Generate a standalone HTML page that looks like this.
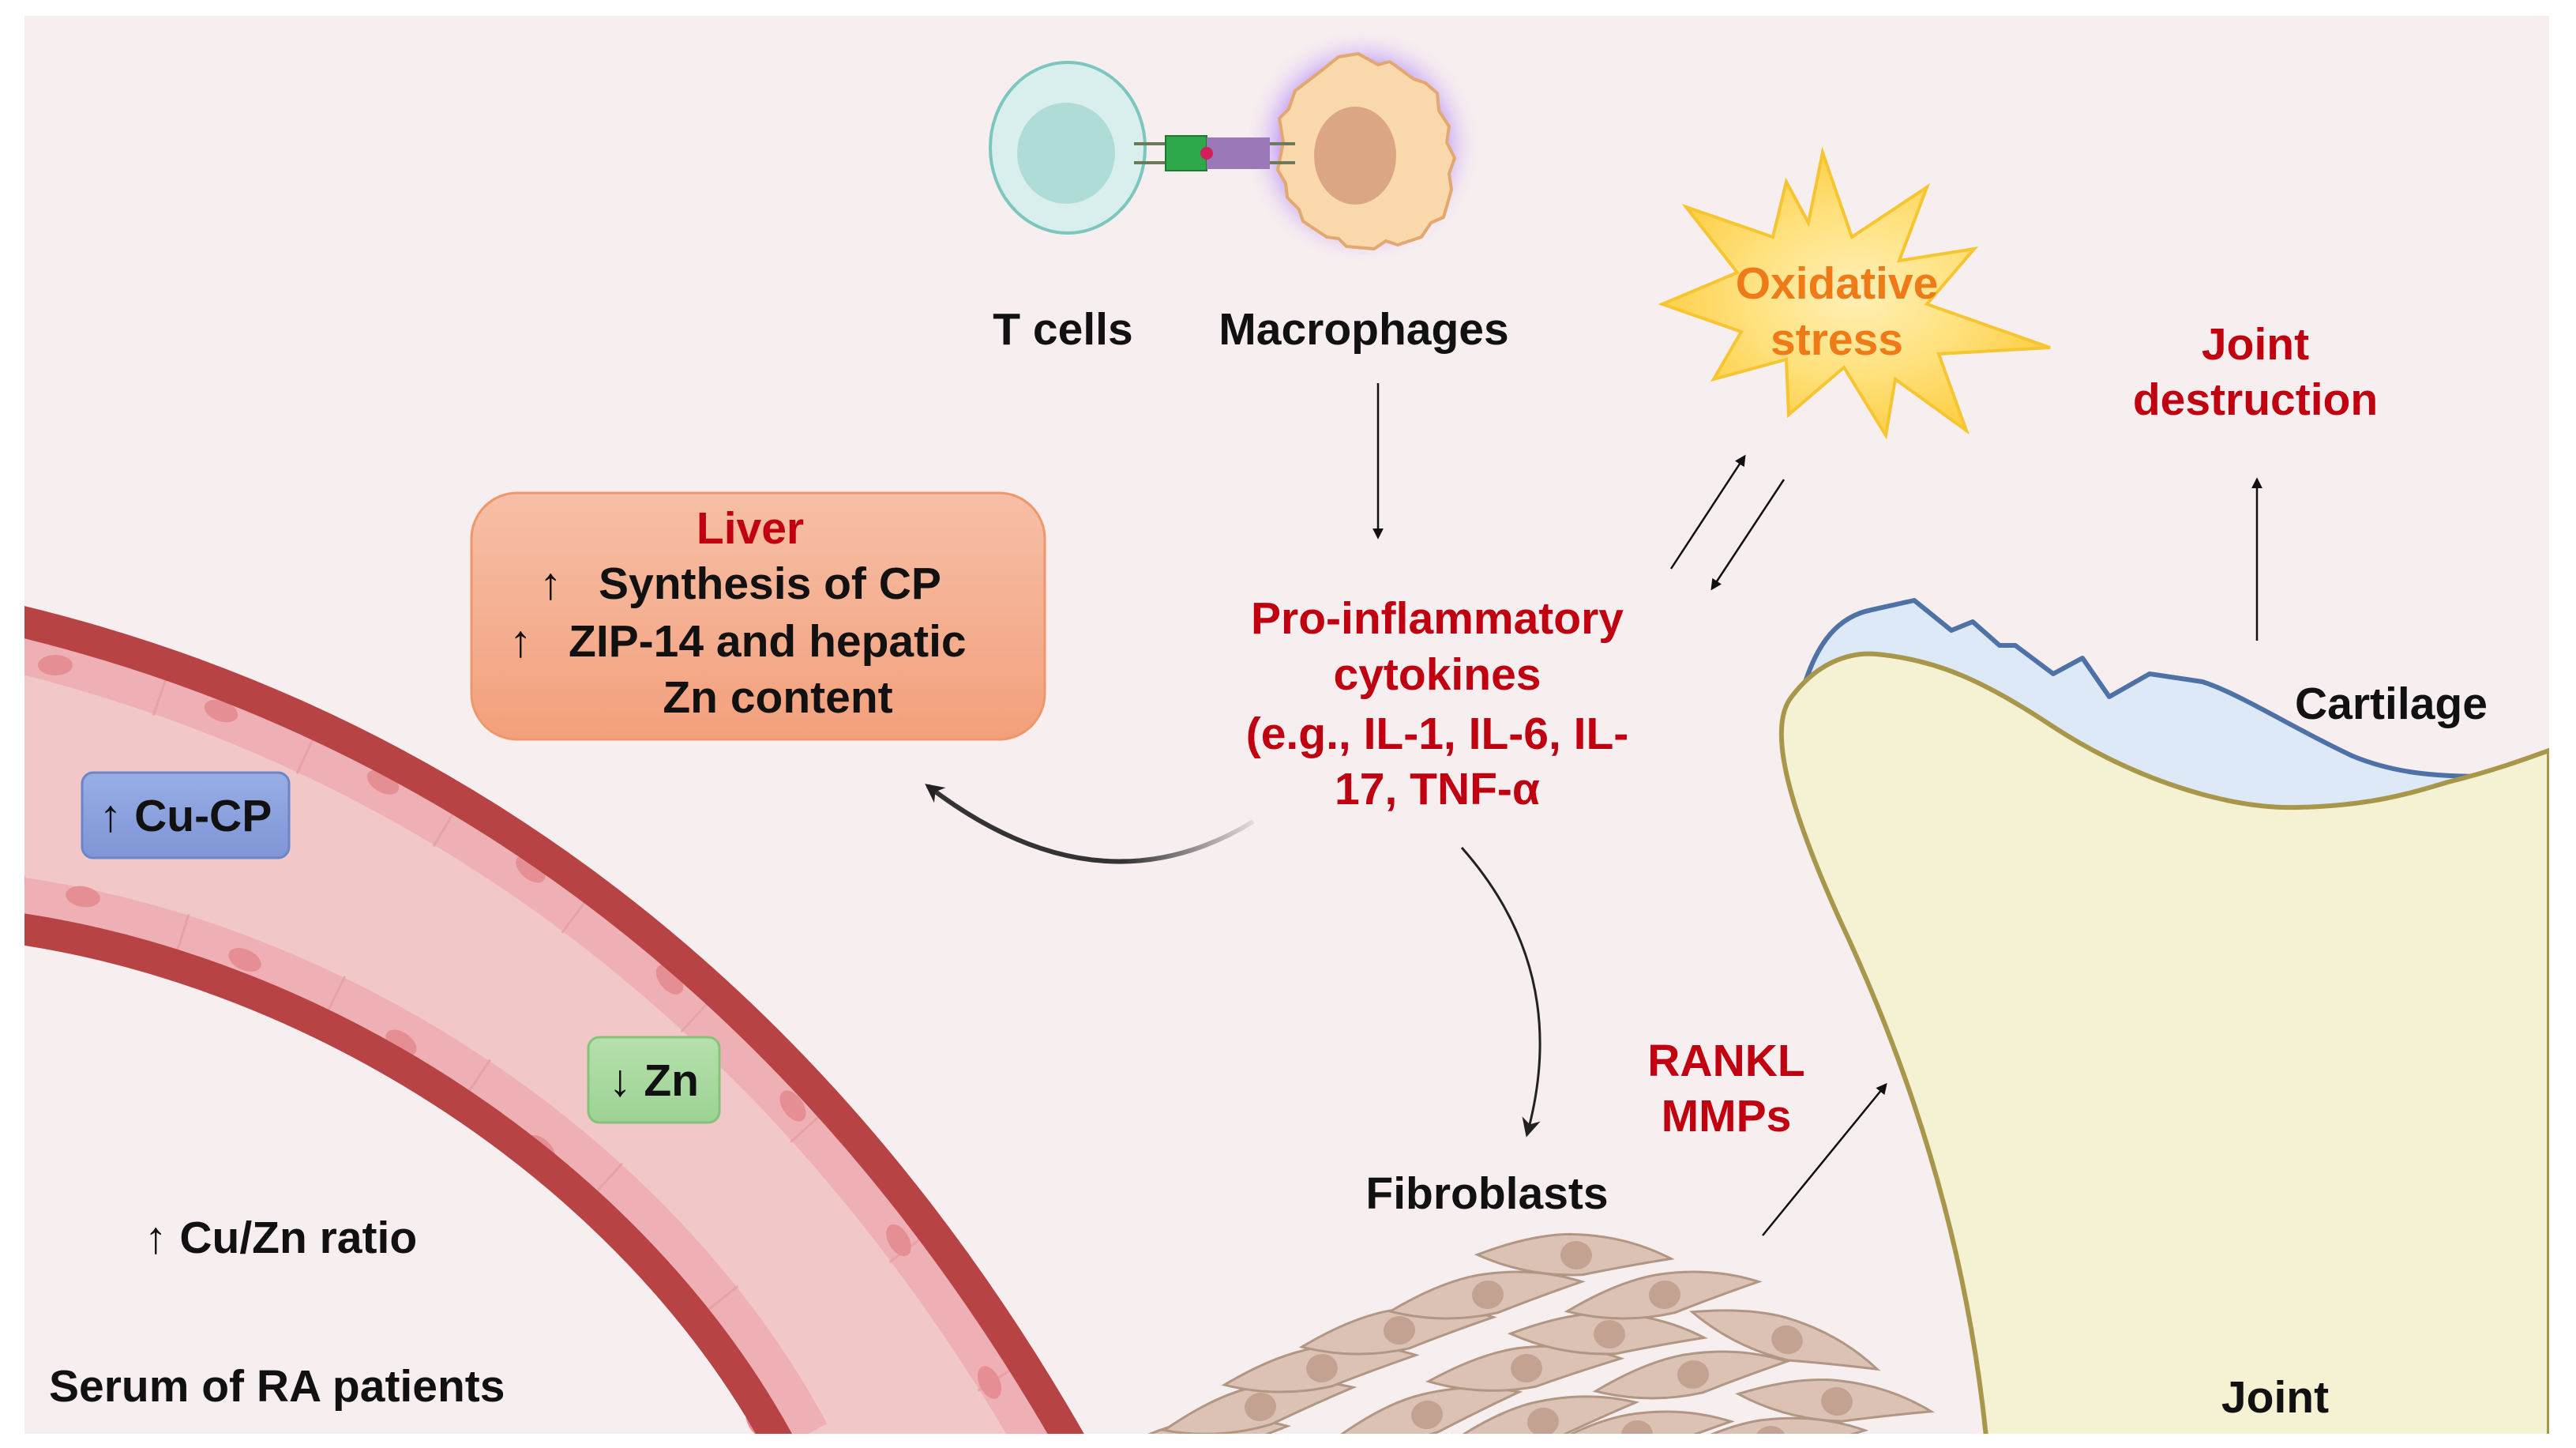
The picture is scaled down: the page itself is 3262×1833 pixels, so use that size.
<!DOCTYPE html>
<html><head><meta charset="utf-8"><style>
html,body{margin:0;padding:0;background:#fff;}
svg{display:block;}
text{font-family:"Liberation Sans",Arial,sans-serif;font-weight:bold;}
</style></head><body>
<svg width="3262" height="1833" viewBox="0 0 3262 1833" xmlns="http://www.w3.org/2000/svg">
<defs>
<clipPath id="content"><rect x="31" y="20" width="3197" height="1795"/></clipPath>
<clipPath id="lumen"><path d="M20 785 C500 900 1000 1200 1360 1833 L990 1833 C800 1480 400 1230 20 1175 Z"/></clipPath>
<linearGradient id="liverG" x1="0" y1="0" x2="0" y2="1"><stop offset="0" stop-color="#f6bfa6"/><stop offset="1" stop-color="#f3a07c"/></linearGradient>
<linearGradient id="cuG" x1="0" y1="0" x2="0" y2="1"><stop offset="0" stop-color="#98aee6"/><stop offset="1" stop-color="#7f95d6"/></linearGradient>
<linearGradient id="znG" x1="0" y1="0" x2="0" y2="1"><stop offset="0" stop-color="#b6e0ad"/><stop offset="1" stop-color="#9dd293"/></linearGradient>
<radialGradient id="starG" cx="0.5" cy="0.5" r="0.5"><stop offset="0" stop-color="#fff0b8"/><stop offset="0.6" stop-color="#ffe07a"/><stop offset="1" stop-color="#fcd04a"/></radialGradient>
<radialGradient id="glow" cx="0.5" cy="0.5" r="0.5"><stop offset="0.7" stop-color="#c7a6f5" stop-opacity="0.9"/><stop offset="1" stop-color="#f7eef0" stop-opacity="0"/></radialGradient>
<linearGradient id="curveG" x1="1" y1="0" x2="0" y2="0"><stop offset="0" stop-color="#333" stop-opacity="0.1"/><stop offset="0.4" stop-color="#333"/><stop offset="1" stop-color="#333"/></linearGradient>
<marker id="ahs" viewBox="0 0 10 10" refX="8" refY="5" markerWidth="14" markerHeight="14" orient="auto" markerUnits="userSpaceOnUse"><path d="M0 0 L10 5 L0 10 Z" fill="#111"/></marker>
<marker id="ahb" viewBox="0 0 10 10" refX="8" refY="5" markerWidth="24" markerHeight="24" orient="auto" markerUnits="userSpaceOnUse"><path d="M0 0 L10 5 L0 10 L3 5 Z" fill="#222"/></marker>
<g id="fib"><path d="M-125 8 Q-60 -22 -10 -26 Q60 -30 120 -4 Q60 10 10 24 Q-60 32 -125 8 Z" fill="#dcc2b4" stroke="#b29684" stroke-width="3"/><ellipse cx="0" cy="0" rx="20" ry="18" fill="#c3a292"/></g>
</defs>
<rect x="0" y="0" width="3262" height="1833" fill="#ffffff"/>
<g clip-path="url(#content)">
<rect x="0" y="0" width="3262" height="1833" fill="#f7eef0"/>

<path d="M20 785 C500 900 1000 1200 1360 1833 L990 1833 C800 1480 400 1230 20 1175 Z" fill="#f1c7c8"/>
<g clip-path="url(#lumen)">
 <path d="M20 785 C500 900 1000 1200 1360 1833" fill="none" stroke="#eeb0b4" stroke-width="130"/>
 <path d="M20 1175 C400 1230 800 1480 990 1833" fill="none" stroke="#eeb0b4" stroke-width="130"/>
 <path d="M20 785 C500 900 1000 1200 1360 1833" fill="none" stroke="#e39ca0" stroke-width="134" stroke-dasharray="3 200" opacity="0.7"/>
 <path d="M20 1175 C400 1230 800 1480 990 1833" fill="none" stroke="#e39ca0" stroke-width="134" stroke-dasharray="3 200" opacity="0.7"/>
</g>
<g fill="#e58e94">
 <ellipse cx="70" cy="842" rx="22" ry="13"/><ellipse cx="280" cy="900" rx="22" ry="13" transform="rotate(20 280 900)"/>
 <ellipse cx="485" cy="990" rx="22" ry="13" transform="rotate(30 485 990)"/><ellipse cx="672" cy="1100" rx="22" ry="13" transform="rotate(40 672 1100)"/>
 <ellipse cx="848" cy="1240" rx="22" ry="13" transform="rotate(50 848 1240)"/><ellipse cx="1004" cy="1400" rx="22" ry="13" transform="rotate(55 1004 1400)"/>
 <ellipse cx="1138" cy="1570" rx="22" ry="13" transform="rotate(60 1138 1570)"/><ellipse cx="1253" cy="1750" rx="22" ry="13" transform="rotate(65 1253 1750)"/>
 <ellipse cx="105" cy="1135" rx="22" ry="13" transform="rotate(10 105 1135)"/><ellipse cx="310" cy="1215" rx="22" ry="13" transform="rotate(25 310 1215)"/>
 <ellipse cx="508" cy="1320" rx="22" ry="13" transform="rotate(35 508 1320)"/><ellipse cx="685" cy="1455" rx="22" ry="13" transform="rotate(45 685 1455)"/>
 <ellipse cx="835" cy="1620" rx="22" ry="13" transform="rotate(55 835 1620)"/><ellipse cx="960" cy="1800" rx="22" ry="13" transform="rotate(60 960 1800)"/>
</g>
<path d="M20 785 C500 900 1000 1200 1360 1833" fill="none" stroke="#b84345" stroke-width="40"/>
<path d="M20 1175 C400 1230 800 1480 990 1833" fill="none" stroke="#b84345" stroke-width="40"/>

<path d="M2281 880 C2300 810 2330 780 2370 772 L2424 760 L2471 798 L2498 787 L2532 817 L2552 817 L2600 853 L2637 833 L2671 882 L2722 853 L2789 863 C2840 880 2900 920 2979 957 C3030 978 3080 983 3148 983 L3148 1050 L2600 1000 L2300 950 Z" fill="#dde9f7" stroke="#4f72a6" stroke-width="6" stroke-linejoin="round"/>
<path d="M2517 1840 C2500 1650 2450 1420 2330 1165 C2260 1010 2240 920 2268 883 C2300 840 2340 825 2376 828 C2450 835 2510 860 2600 920 C2700 985 2820 1025 2911 1022 C3000 1020 3050 1005 3100 990 C3160 975 3200 960 3228 950 L3228 1840 Z" fill="#f5f2d4" stroke="#a8964a" stroke-width="6"/>

<g>
<use href="#fib" transform="translate(1512 1826) rotate(-8)"/>
<use href="#fib" transform="translate(1596 1781) rotate(-10)"/>
<use href="#fib" transform="translate(1807 1791) rotate(-12)"/>
<use href="#fib" transform="translate(1954 1800) rotate(-10)"/>
<use href="#fib" transform="translate(2073 1816) rotate(-6)"/>
<use href="#fib" transform="translate(2242 1823) rotate(-4)"/>
<use href="#fib" transform="translate(1674 1732) rotate(-6)"/>
<use href="#fib" transform="translate(1933 1732) rotate(-4)"/>
<use href="#fib" transform="translate(2144 1740) rotate(-6)"/>
<use href="#fib" transform="translate(2326 1774) rotate(8)"/>
<use href="#fib" transform="translate(1772 1684) rotate(-6)"/>
<use href="#fib" transform="translate(2038 1689) rotate(4)"/>
<use href="#fib" transform="translate(2263 1696) rotate(20)"/>
<use href="#fib" transform="translate(1884 1639) rotate(-6)"/>
<use href="#fib" transform="translate(2108 1639) rotate(-6)"/>
<use href="#fib" transform="translate(1996 1589) rotate(4)"/>
</g>
</g>

<ellipse cx="1352" cy="187" rx="98" ry="108" fill="#d8efed" stroke="#7cc6be" stroke-width="4"/>
<ellipse cx="1350" cy="194" rx="62" ry="64" fill="#b0dcd8"/>
<circle cx="1725" cy="185" r="150" fill="url(#glow)"/>
<path d="M1720 68 L1745 82 L1760 78 L1790 100 L1805 105 L1820 118 L1822 140 L1835 160 L1832 180 L1842 200 L1835 220 L1838 240 L1828 275 L1812 282 L1800 300 L1770 310 L1755 305 L1740 315 L1705 312 L1695 302 L1680 300 L1650 280 L1645 265 L1630 250 L1628 232 L1618 215 L1625 180 L1620 150 L1632 138 L1640 115 L1670 92 L1695 72 Z" fill="#f9d8ab" stroke="#e3a870" stroke-width="4" stroke-linejoin="round"/>
<ellipse cx="1716" cy="197" rx="52" ry="62" fill="#dba683"/>
<line x1="1436" y1="182" x2="1640" y2="182" stroke="#6a7a5a" stroke-width="4"/>
<line x1="1436" y1="206" x2="1640" y2="206" stroke="#6a7a5a" stroke-width="4"/>
<rect x="1476" y="172" width="52" height="44" fill="#2ea84a" stroke="#1d7a30" stroke-width="2"/>
<rect x="1528" y="174" width="80" height="40" fill="#9b78b8"/>
<circle cx="1528" cy="194" r="8" fill="#d0205a"/>

<rect x="597" y="624" width="726" height="312" rx="58" fill="url(#liverG)" stroke="#f09668" stroke-width="3"/>
<rect x="104" y="978" width="262" height="108" rx="14" fill="url(#cuG)" stroke="#6c85c8" stroke-width="3"/>
<rect x="745" y="1313" width="166" height="108" rx="14" fill="url(#znG)" stroke="#86c27c" stroke-width="3"/>

<path d="M2308 193 L2345 300 L2440 237 L2405 330 L2500 315 L2440 385 L2596 440 L2455 448 L2490 545 L2400 480 L2388 551 L2335 465 L2265 525 L2262 455 L2170 480 L2205 420 L2105 385 L2200 345 L2135 262 L2245 300 L2262 230 L2290 282 Z" fill="url(#starG)" stroke="#f6c530" stroke-width="4"/>

<g stroke="#111" stroke-width="2.5" fill="none">
<line x1="1745" y1="485" x2="1745" y2="680" marker-end="url(#ahs)"/>
<line x1="2116" y1="720" x2="2209" y2="578" marker-end="url(#ahs)"/>
<line x1="2259" y1="607" x2="2168" y2="745" marker-end="url(#ahs)"/>
<line x1="2858" y1="811" x2="2858" y2="607" marker-end="url(#ahs)"/>
<line x1="2232" y1="1564" x2="2388" y2="1373" marker-end="url(#ahs)"/>
<path d="M1851 1073 Q1990 1230 1934 1435" stroke="#222" stroke-width="3" marker-end="url(#ahb)"/>
</g>
<path d="M1587 1040 Q1390 1160 1175 995" stroke="url(#curveG)" stroke-width="6" fill="none" marker-end="url(#ahb)"/>

<g font-size="57" fill="#111">
<text x="1346" y="436" text-anchor="middle">T cells</text>
<text x="1727" y="436" text-anchor="middle">Macrophages</text>
<text x="950" y="688" text-anchor="middle" fill="#c00010">Liver</text>
<text x="683" y="758">↑</text><text x="758" y="758">Synthesis of CP</text>
<text x="645" y="831">↑</text><text x="720" y="831">ZIP-14 and hepatic</text>
<text x="985" y="902" text-anchor="middle">Zn content</text>
<text x="235" y="1052" text-anchor="middle">↑ Cu-CP</text>
<text x="828" y="1387" text-anchor="middle">↓ Zn</text>
<text x="183" y="1586">↑ Cu/Zn ratio</text>
<text x="62" y="1774">Serum of RA patients</text>
<g fill="#c00010" text-anchor="middle">
<text x="1820" y="802">Pro-inflammatory</text>
<text x="1820" y="873">cytokines</text>
<text x="1820" y="948">(e.g., IL-1, IL-6, IL-</text>
<text x="1820" y="1018">17, TNF-α</text>
<text x="2856" y="455">Joint</text>
<text x="2856" y="525">destruction</text>
<text x="2186" y="1362">RANKL</text>
<text x="2186" y="1432">MMPs</text>
</g>
<g fill="#ee7a18" text-anchor="middle">
<text x="2326" y="378">Oxidative</text>
<text x="2326" y="449">stress</text>
</g>
<text x="2906" y="910">Cartilage</text>
<text x="1883" y="1530" text-anchor="middle">Fibroblasts</text>
<text x="2881" y="1788" text-anchor="middle">Joint</text>
</g>
</svg>
</body></html>
